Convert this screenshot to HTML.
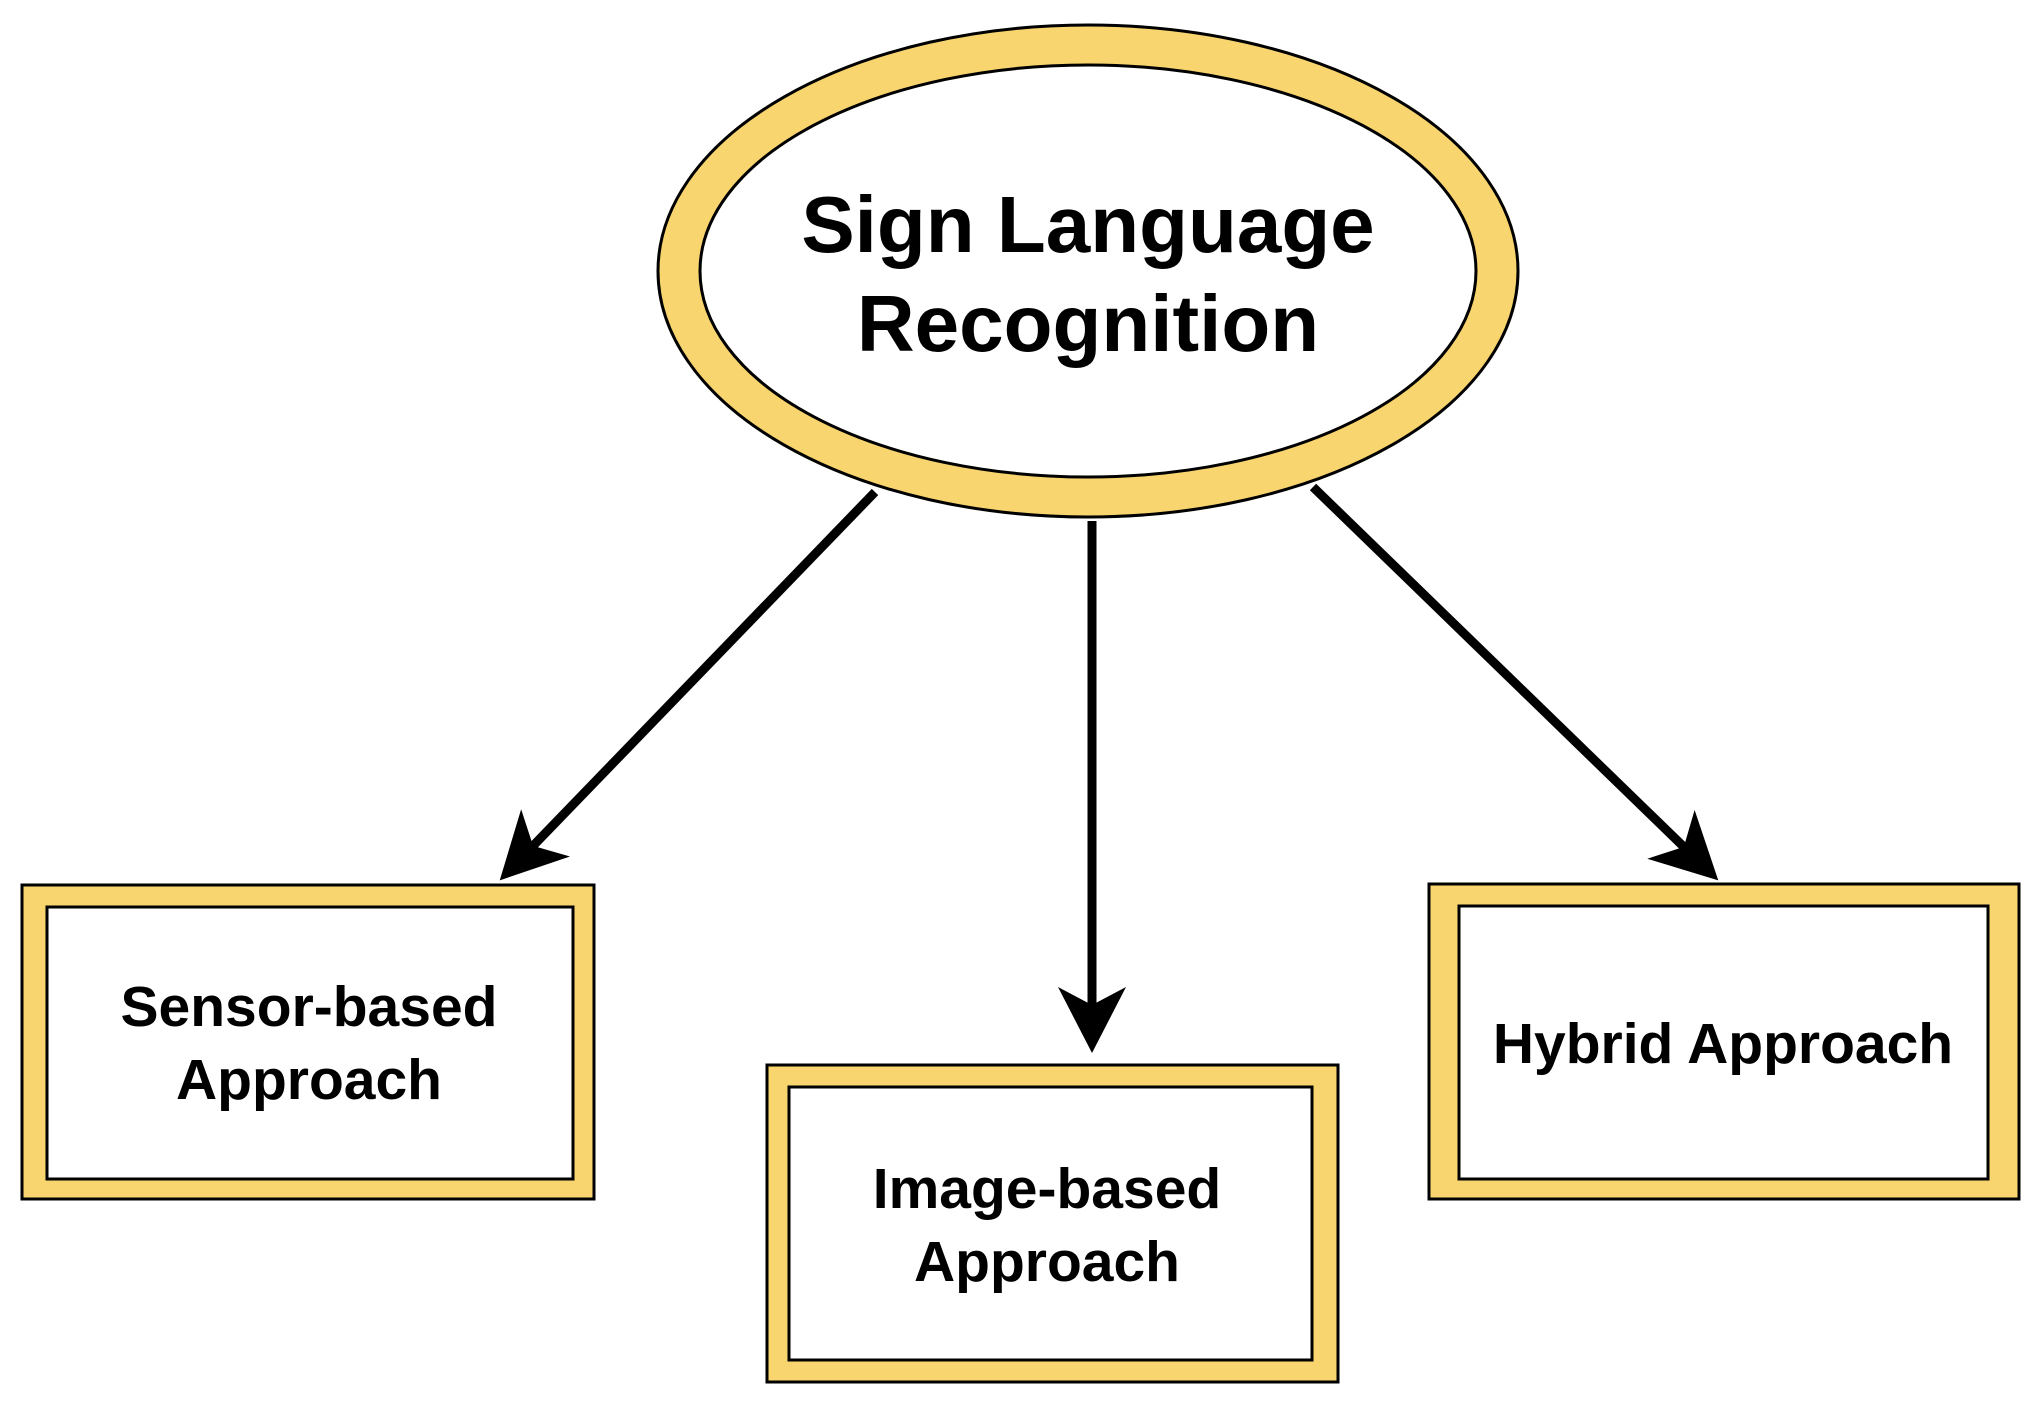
<!DOCTYPE html>
<html><head><meta charset="utf-8"><style>
html,body{margin:0;padding:0;background:#fff;}
svg{display:block;}
text{font-family:"Liberation Sans",Arial,sans-serif;font-weight:bold;fill:#000;text-anchor:middle;}
</style></head><body>
<svg width="2041" height="1405" viewBox="0 0 2041 1405" xmlns="http://www.w3.org/2000/svg">
<defs>
<marker id="ah" markerUnits="userSpaceOnUse" markerWidth="80" markerHeight="80" refX="21" refY="34" orient="auto">
<path d="M66,34 L0,0 L18,34 L0,68 Z" fill="#000"/>
</marker>
</defs>
<rect width="2041" height="1405" fill="#fff"/>
<!-- ellipse -->
<ellipse cx="1088" cy="271" rx="430" ry="246" fill="#F8D56E" stroke="#000" stroke-width="3"/>
<ellipse cx="1088" cy="271" rx="388" ry="206" fill="#fff" stroke="#000" stroke-width="3"/>
<text x="1088" y="252" font-size="80">Sign Language</text>
<text x="1088" y="351" font-size="80">Recognition</text>
<!-- arrows -->
<line x1="875" y1="492" x2="531" y2="848" stroke="#000" stroke-width="9" marker-end="url(#ah)"/>
<line x1="1092" y1="521" x2="1092" y2="1008" stroke="#000" stroke-width="9" marker-end="url(#ah)"/>
<line x1="1313" y1="487" x2="1686" y2="849" stroke="#000" stroke-width="9" marker-end="url(#ah)"/>
<!-- boxes -->
<rect x="22" y="885" width="572" height="314" fill="#F8D56E" stroke="#000" stroke-width="3"/>
<rect x="47" y="907" width="526" height="272" fill="#fff" stroke="#000" stroke-width="3"/>
<text x="309" y="1026" font-size="57">Sensor-based</text>
<text x="309" y="1099" font-size="57">Approach</text>

<rect x="767" y="1065" width="571" height="317" fill="#F8D56E" stroke="#000" stroke-width="3"/>
<rect x="789" y="1087" width="523" height="273" fill="#fff" stroke="#000" stroke-width="3"/>
<text x="1047" y="1208" font-size="57">Image-based</text>
<text x="1047" y="1281" font-size="57">Approach</text>

<rect x="1429" y="884" width="590" height="315" fill="#F8D56E" stroke="#000" stroke-width="3"/>
<rect x="1459" y="906" width="529" height="273" fill="#fff" stroke="#000" stroke-width="3"/>
<text x="1723" y="1063" font-size="57">Hybrid Approach</text>
</svg>
</body></html>
